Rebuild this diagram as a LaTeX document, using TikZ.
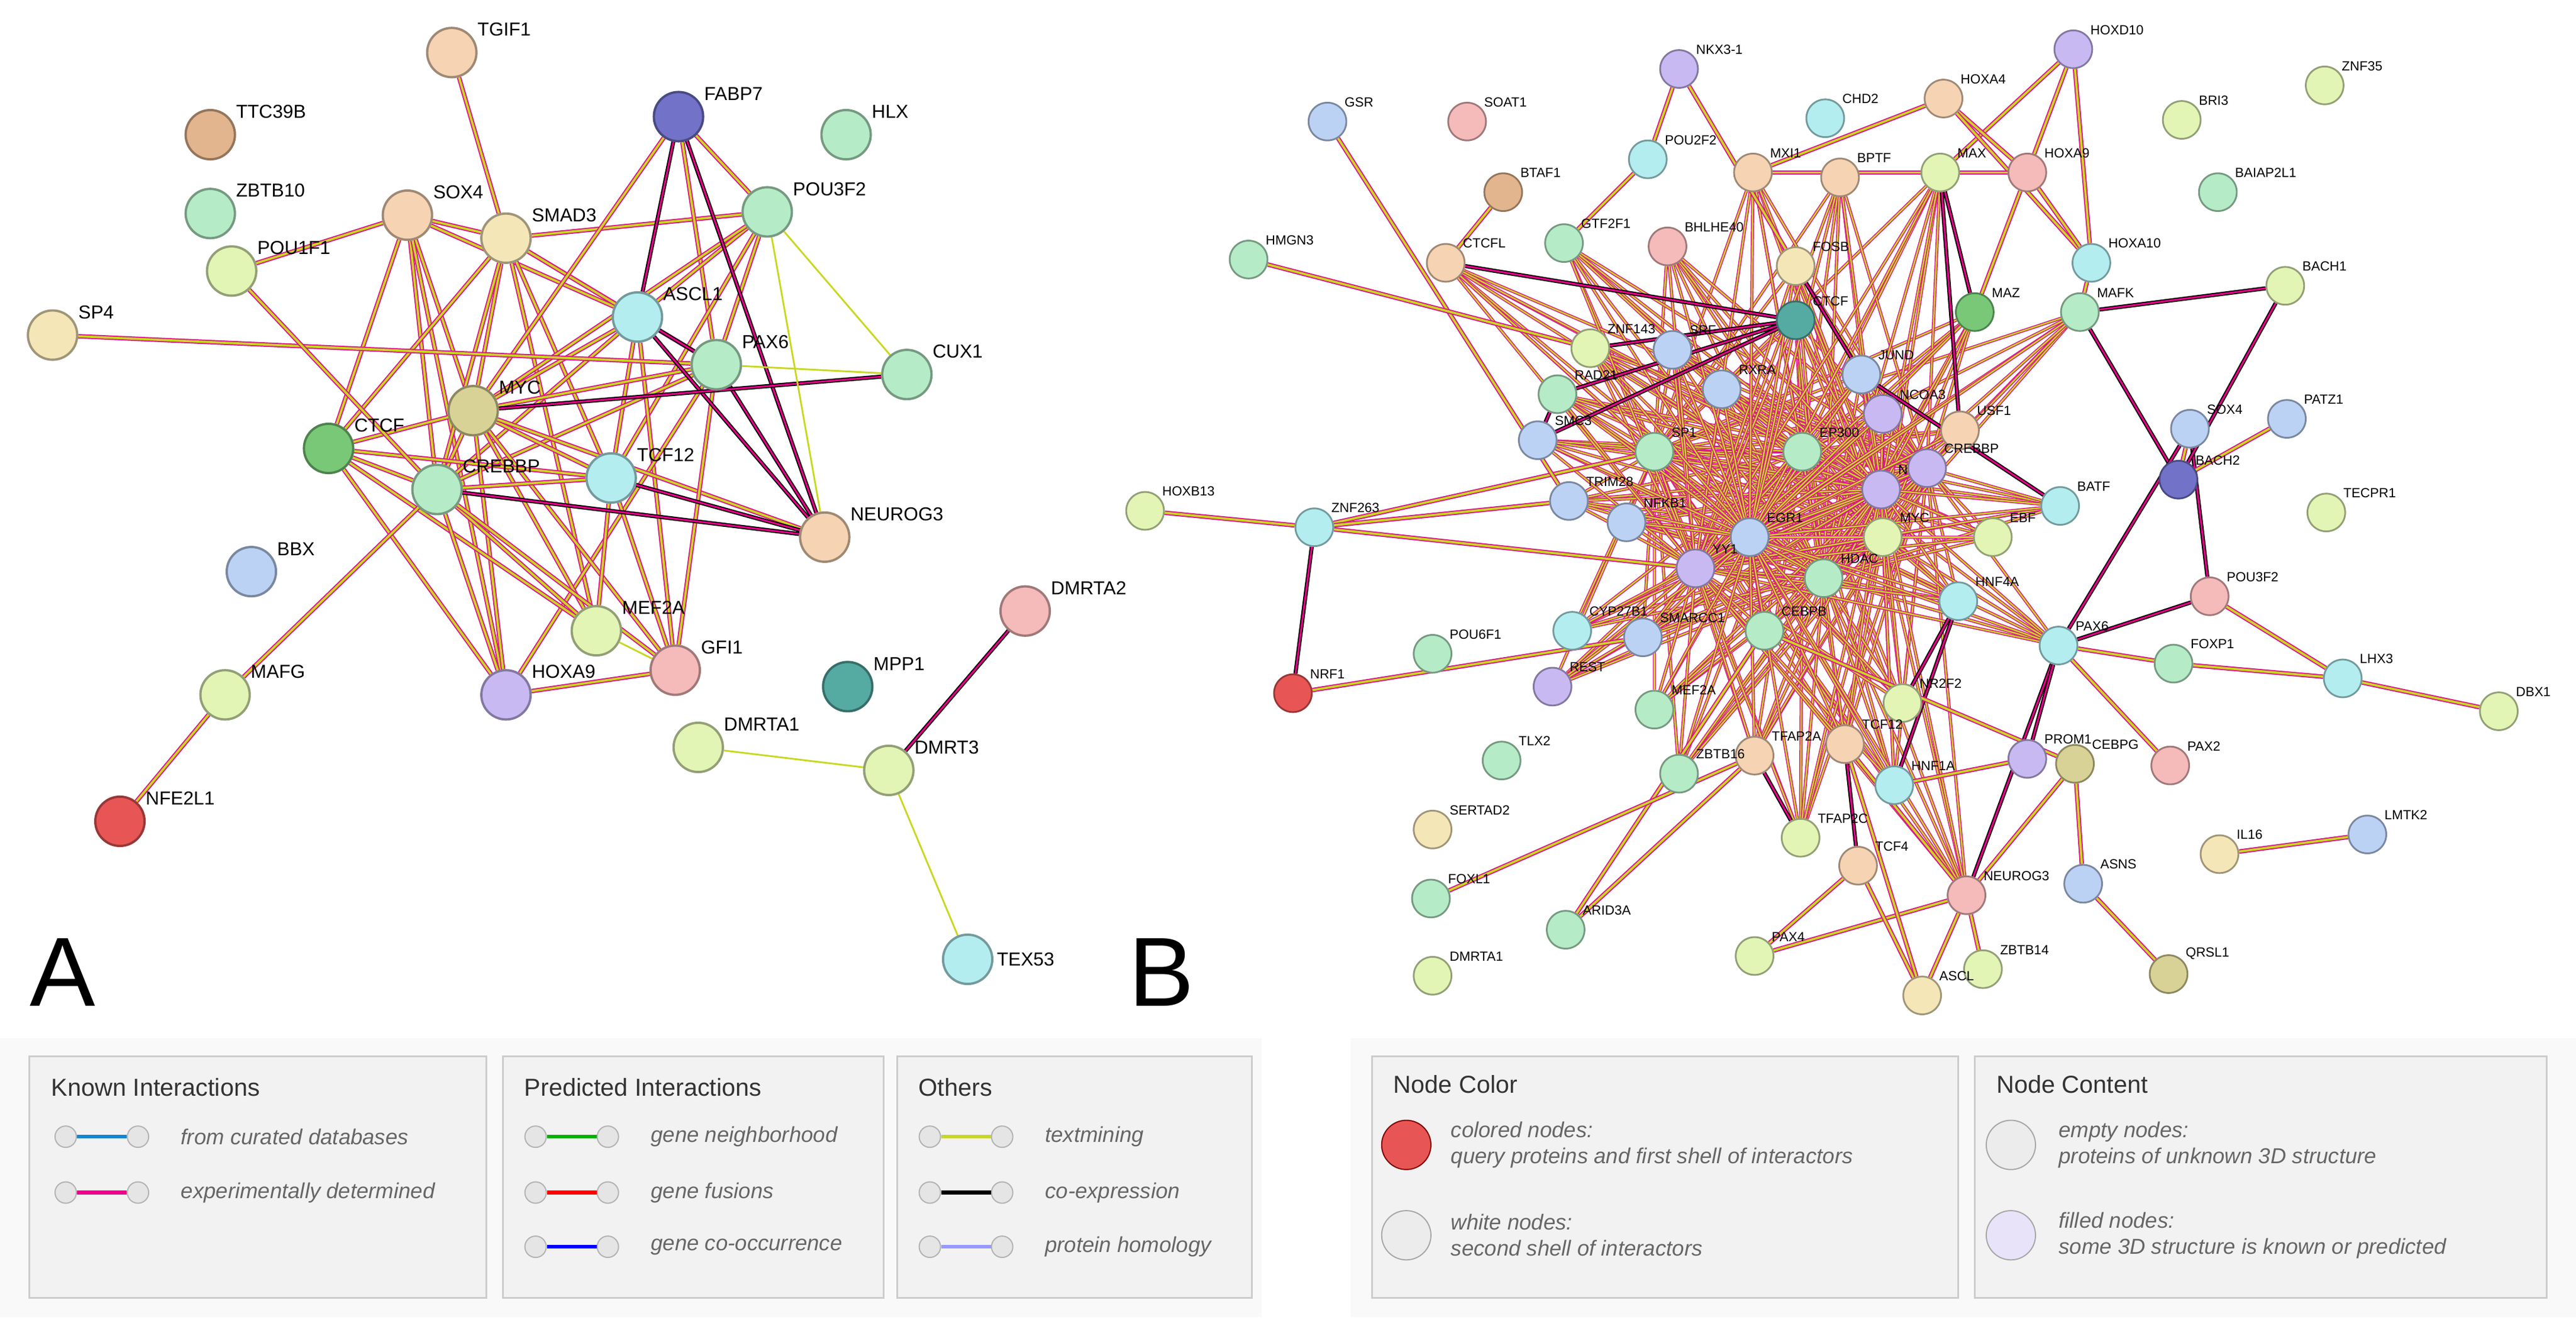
\documentclass[tikz,border=0pt]{standalone}
\usepackage{fontspec}
\setmainfont{Liberation Sans}
\usetikzlibrary{backgrounds}
\definecolor{cPeach}{HTML}{F5D3B3}
\definecolor{cGreen}{HTML}{B5EBC6}
\definecolor{cCyan}{HTML}{B3EDF0}
\definecolor{cLime}{HTML}{E2F5B5}
\definecolor{cPurple}{HTML}{C9B9F3}
\definecolor{cBlue}{HTML}{BCD2F5}
\definecolor{cPink}{HTML}{F5BABA}
\definecolor{cRed}{HTML}{E85555}
\definecolor{cDGreen}{HTML}{78C878}
\definecolor{cTeal}{HTML}{55AAA2}
\definecolor{cKhaki}{HTML}{D8D296}
\definecolor{cTan}{HTML}{E2B58E}
\definecolor{cDBlue}{HTML}{7272C8}
\definecolor{cCream}{HTML}{F5E6B8}
\definecolor{txtc}{HTML}{C8D820}
\tikzset{
	nA/.style = {circle, draw=#1!65!black, fill=#1, minimum size=0.6cm, inner sep=0pt, line width=0.8pt},
	nB/.style = {circle, draw=#1!65!black, fill=#1, minimum size=0.46cm, inner sep=0pt, line width=0.6pt},
	lblA/.style = {font=\fontsize{6.5}{8}\selectfont, inner sep=1pt},
	lblB/.style = {font=\fontsize{4.6}{5}\selectfont, inner sep=0.5pt},
	ed/.style = {draw=magenta!90!black, double=txtc, double distance=0.75pt, line width=0.4pt},
	ek/.style = {draw=black, double=magenta, double distance=0.6pt, line width=0.4pt},
	et/.style = {draw=txtc, line width=0.6pt},
	box/.style = {draw=gray!40, fill=gray!10, line width=0.6pt},
	ttl/.style = {font=\fontsize{8.5}{10}\selectfont, text=black!80, anchor=west},
	itx/.style = {font=\fontsize{7.5}{9}\selectfont\itshape, text=black!60, anchor=west, align=left},
	knob/.style = {circle, draw=gray!60, fill=gray!20, minimum size=0.26cm, inner sep=0pt}
}
\begin{document}
\begin{tikzpicture}[x=0.02cm, y=-0.02cm]
\useasboundingbox (0,0) rectangle (1568,807);

% panel A nodes
\node[nA=cPeach, label={[lblA]30:TGIF1}] (TGIF1) at (275,32) {};
\node[nA=cTan, label={[lblA]30:TTC39B}] (TTC39B) at (128,82) {};
\node[nA=cDBlue, label={[lblA]30:FABP7}] (FABP7) at (413,71) {};
\node[nA=cGreen, label={[lblA]30:HLX}] (HLX) at (515,82) {};
\node[nA=cGreen, label={[lblA]30:ZBTB10}] (ZBTB10) at (128,130) {};
\node[nA=cPeach, label={[lblA]30:SOX4}] (SOX4) at (248,131) {};
\node[nA=cCream, label={[lblA]30:SMAD3}] (SMAD3) at (308,145) {};
\node[nA=cGreen, label={[lblA]30:POU3F2}] (POU3F2) at (467,129) {};
\node[nA=cLime, label={[lblA]30:POU1F1}] (POU1F1) at (141,165) {};
\node[nA=cCream, label={[lblA]30:SP4}] (SP4) at (32,204) {};
\node[nA=cCyan, label={[lblA]30:ASCL1}] (ASCL1) at (388,193) {};
\node[nA=cGreen, label={[lblA]30:PAX6}] (PAX6) at (436,222) {};
\node[nA=cGreen, label={[lblA]30:CUX1}] (CUX1) at (552,228) {};
\node[nA=cKhaki, label={[lblA]30:MYC}] (MYC) at (288,250) {};
\node[nA=cDGreen, label={[lblA]30:CTCF}] (CTCF) at (200,273) {};
\node[nA=cGreen, label={[lblA]30:CREBBP}] (CREBBP) at (266,298) {};
\node[nA=cCyan, label={[lblA]30:TCF12}] (TCF12) at (372,291) {};
\node[nA=cPeach, label={[lblA]30:NEUROG3}] (NEUROG3) at (502,327) {};
\node[nA=cBlue, label={[lblA]30:BBX}] (BBX) at (153,348) {};
\node[nA=cPink, label={[lblA]30:DMRTA2}] (DMRTA2) at (624,372) {};
\node[nA=cLime, label={[lblA]30:MEF2A}] (MEF2A) at (363,384) {};
\node[nA=cTeal, label={[lblA]30:MPP1}] (MPP1) at (516,418) {};
\node[nA=cPink, label={[lblA]30:GFI1}] (GFI1) at (411,408) {};
\node[nA=cPurple, label={[lblA]30:HOXA9}] (HOXA9) at (308,423) {};
\node[nA=cLime, label={[lblA]30:MAFG}] (MAFG) at (137,423) {};
\node[nA=cLime, label={[lblA]30:DMRTA1}] (DMRTA1) at (425,455) {};
\node[nA=cLime, label={[lblA]30:DMRT3}] (DMRT3) at (541,469) {};
\node[nA=cRed, label={[lblA]30:NFE2L1}] (NFE2L1) at (73,500) {};
\node[nA=cCyan, label={[lblA]0:TEX53}] (TEX53) at (589,584) {};

% panel B nodes
\foreach \n/\c/\x/\y in {NKX3-1/cPurple/1022/42, HOXD10/cPurple/1262/30, ZNF35/cLime/1415/52,
  GSR/cBlue/808/74, SOAT1/cPink/893/74, CHD2/cCyan/1111/72, HOXA4/cPeach/1183/60, BRI3/cLime/1328/73,
  POU2F2/cCyan/1003/97, MXI1/cPeach/1067/105, BPTF/cPeach/1120/108, MAX/cLime/1181/105, HOXA9/cPink/1234/105,
  BAIAP2L1/cGreen/1350/117, BTAF1/cTan/915/117, HMGN3/cGreen/760/158, CTCFL/cPeach/880/160,
  GTF2F1/cGreen/952/148, BHLHE40/cPink/1015/150, FOSB/cCream/1093/162, HOXA10/cCyan/1273/160,
  BACH1/cLime/1391/174, CTCF/cTeal/1093/195, MAZ/cDGreen/1202/190, MAFK/cGreen/1266/190,
  ZNF143/cLime/968/212, SRF/cBlue/1018/213, JUND/cBlue/1133/228, RAD21/cGreen/948/240, RXRA/cBlue/1048/237,
  NCOA3/cPurple/1146/252, SOX4/cBlue/1333/261, PATZ1/cBlue/1392/255, SMC3/cBlue/936/268, SP1/cGreen/1007/275,
  EP300/cGreen/1097/275, USF1/cPeach/1193/262, BACH2/cDBlue/1326/292, HOXB13/cLime/697/311,
  ZNF263/cCyan/800/321, TRIM28/cBlue/955/305, NFKB1/cBlue/990/318, NCOR1/cPurple/1145/298,
  CREBBP/cPurple/1173/285, BATF/cCyan/1254/308, TECPR1/cLime/1416/312, EGR1/cBlue/1065/327,
  MYC/cLime/1146/327, EBF/cLime/1213/327, YY1/cPurple/1032/346, HDAC/cGreen/1110/352, HNF4A/cCyan/1192/366,
  POU3F2/cPink/1345/363, POU6F1/cGreen/872/398, CYP27B1/cCyan/957/384, SMARCC1/cBlue/1000/388,
  CEBPB/cGreen/1074/384, PAX6/cCyan/1253/393, FOXP1/cGreen/1323/404, LHX3/cCyan/1426/413, DBX1/cLime/1521/433,
  NRF1/cRed/787/422, REST/cPurple/945/418, MEF2A/cGreen/1007/432, NR2F2/cLime/1158/428, TLX2/cGreen/914/463,
  TFAP2A/cPeach/1068/460, TCF12/cPeach/1123/453, PROM1/cPurple/1234/462, CEBPG/cKhaki/1263/465,
  PAX2/cPink/1321/466, HNF1A/cCyan/1153/478, ZBTB16/cGreen/1022/471, SERTAD2/cCream/872/505,
  TFAP2C/cLime/1096/510, TCF4/cPeach/1131/527, LMTK2/cBlue/1441/508, IL16/cCream/1351/520,
  FOXL1/cGreen/871/547, ARID3A/cGreen/953/566, NEUROG3/cPink/1197/545, ASNS/cBlue/1268/538,
  PAX4/cLime/1068/582, ZBTB14/cLime/1207/590, QRSL1/cKhaki/1320/593, DMRTA1/cLime/872/594, ASCL/cCream/1170/606}
  \node[nB=\c, label={[lblB]40:\n}] (b\n) at (\x,\y) {};

\begin{pgfonlayer}{background}
\fill[white] (0,0) rectangle (1568,807);
% panel A edges
\foreach \a/\b in {TGIF1/SMAD3, SOX4/SMAD3, SOX4/MYC, SOX4/CTCF, SOX4/CREBBP, SOX4/ASCL1, SOX4/HOXA9,
  SMAD3/MYC, SMAD3/CREBBP, SMAD3/POU3F2, SMAD3/ASCL1, SMAD3/PAX6, SMAD3/CTCF, SMAD3/TCF12, SMAD3/MEF2A,
  FABP7/POU3F2, FABP7/PAX6, FABP7/MYC, POU3F2/ASCL1, POU3F2/PAX6, POU3F2/TCF12, POU3F2/MYC,
  ASCL1/MYC, ASCL1/CREBBP, ASCL1/TCF12, ASCL1/GFI1, PAX6/MYC, PAX6/CREBBP, PAX6/HOXA9, SP4/PAX6,
  MYC/CTCF, MYC/CREBBP, MYC/TCF12, MYC/MEF2A, MYC/GFI1, MYC/HOXA9, MYC/NEUROG3, CTCF/CREBBP, CTCF/TCF12,
  CTCF/HOXA9, CTCF/MEF2A, CREBBP/TCF12, CREBBP/MEF2A, CREBBP/HOXA9, CREBBP/GFI1, CREBBP/MAFG,
  TCF12/MEF2A, TCF12/GFI1, HOXA9/GFI1, POU1F1/SOX4, POU1F1/CREBBP, PAX6/GFI1}
  \draw[ed] (\a) -- (\b);
\foreach \a/\b in {FABP7/ASCL1, FABP7/NEUROG3, ASCL1/NEUROG3, PAX6/NEUROG3, TCF12/NEUROG3, MYC/CUX1,
  CREBBP/NEUROG3, ASCL1/PAX6}
  \draw[ek] (\a) -- (\b);
\foreach \a/\b in {POU3F2/CUX1, PAX6/CUX1, POU3F2/NEUROG3, DMRT3/TEX53, DMRTA1/DMRT3, DMRTA2/DMRT3, MAFG/NFE2L1, GFI1/MEF2A}
  \draw[et] (\a) -- (\b);
\draw[ed] (MAFG) -- (NFE2L1);
\draw[ek] (DMRTA2) -- (DMRT3);
% panel B edges
\foreach \h in {bSP1,bEP300,bCREBBP,bMYC,bHDAC,bNCOR1,bYY1,bEGR1}
  \foreach \t in {bSP1,bEP300,bCREBBP,bMYC,bHDAC,bNCOR1,bCTCF,bYY1,bEGR1,bJUND,bNCOA3,bRXRA,bSRF,bNFKB1,
    bTRIM28,bSMC3,bRAD21,bZNF143,bUSF1,bMAZ,bMAX,bCEBPB,bSMARCC1,bHNF4A,bEBF,bNR2F2,bTCF12,bMEF2A,bREST,
    bCYP27B1,bTFAP2A,bHNF1A,bPAX6,bBATF,bMAFK,bFOSB,bBHLHE40,bMXI1,bBPTF,bGTF2F1,bCTCFL,bZBTB16,bTFAP2C,bNEUROG3}
    \draw[ed, line width=0.3pt, double distance=0.5pt] (\h) -- (\t);
\foreach \a/\b in {bCTCF/bRAD21, bCTCF/bSMC3, bCTCF/bZNF143, bCTCF/bCTCFL, bRAD21/bSMC3, bMAX/bMXI1, bMAX/bMAZ,
  bJUND/bFOSB, bJUND/bBATF, bMAFK/bBACH1, bMAFK/bBACH2, bUSF1/bMAX, bNR2F2/bHNF4A, bHNF1A/bHNF4A, bTCF12/bTCF4,
  bTFAP2A/bTFAP2C, bPAX6/bPOU3F2, bPAX6/bSOX4, bSOX4/bPOU3F2, bBACH1/bBACH2, bPAX6/bNEUROG3, bPAX6/bPROM1}
  \draw[ek] (\a) -- (\b);
\foreach \a/\b in {bHOXB13/bZNF263, bZNF263/bSP1, bZNF263/bYY1, bZNF263/bTRIM28, bNRF1/bSMARCC1,
  bNKX3-1/bPOU2F2, bNKX3-1/bFOSB, bHOXD10/bHOXA9, bHOXD10/bMAX, bHOXD10/bHOXA10, bHOXA4/bHOXA9, bHOXA4/bMXI1,
  bHOXA4/bHOXA10, bHOXA9/bHOXA10, bHOXA10/bMAFK, bHOXA9/bMAZ, bPATZ1/bBACH2, bLHX3/bPOU3F2, bLHX3/bDBX1,
  bLHX3/bFOXP1, bFOXP1/bPAX6, bPAX2/bPAX6, bCEBPG/bASNS, bASNS/bQRSL1, bIL16/bLMTK2, bARID3A/bCEBPB,
  bARID3A/bTFAP2A, bFOXL1/bTFAP2A, bPAX4/bNEUROG3, bPAX4/bTCF4, bZBTB14/bNEUROG3, bASCL/bNEUROG3, bASCL/bTCF4,
  bASCL/bTCF12, bNEUROG3/bTCF12, bGSR/bTRIM28, bHMGN3/bZNF143, bCEBPG/bCEBPB, bPROM1/bHNF1A, bBACH2/bSOX4,
  bCEBPG/bNEUROG3, bCTCFL/bBTAF1, bPOU2F2/bGTF2F1, bMXI1/bHOXA9}
  \draw[ed] (\a) -- (\b);
\draw[ek] (bZNF263) -- (bNRF1);
\end{pgfonlayer}

% panel letters
\node[font=\fontsize{34}{36}\selectfont] (labA) at (38,592) {A};
\node[font=\fontsize{34}{36}\selectfont] (labB) at (707,592) {B};

% legend A
\fill[gray!5] (0,632) rectangle (768,802);
\draw[box] (18,643) rectangle (296,790);
\draw[box] (306,643) rectangle (538,790);
\draw[box] (546,643) rectangle (762,790);
\node[ttl] (tKnown) at (25,662) {Known Interactions};
\node[ttl] (tPred) at (313,662) {Predicted Interactions};
\node[ttl] (tOth) at (553,662) {Others};
\foreach \x/\y/\c/\t [count=\i] in {40/692/cyan!70!blue/from curated databases, 40/726/magenta/experimentally determined,
  326/692/green!70!black/gene neighborhood, 326/726/red/gene fusions, 326/759/blue/gene co-occurrence,
  566/692/txtc/textmining, 566/726/black/co-expression, 566/759/blue!40/protein homology}{
  \node[knob] (kl\i) at (\x,\y) {};
  \node[knob] (kr\i) at (\x+44,\y) {};
  \draw[\c, line width=1.3pt] (kl\i) -- (kr\i);
  \node[itx] (tx\i) at (\x+64,\y) {\t};
}

% legend B
\fill[gray!5] (822,632) rectangle (1568,802);
\draw[box] (835,643) rectangle (1192,790);
\draw[box] (1202,643) rectangle (1550,790);
\node[ttl] (tColor) at (842,660) {Node Color};
\node[ttl] (tContent) at (1209,660) {Node Content};
\node[circle, draw=red!50!black, fill=cRed, minimum size=0.6cm] (iRed) at (856,697) {};
\node[circle, draw=gray!70, fill=gray!15, minimum size=0.6cm] (iWhite) at (856,752) {};
\node[circle, draw=gray!70, fill=gray!15, minimum size=0.6cm] (iEmpty) at (1224,697) {};
\node[circle, draw=gray!70, fill=cPurple!40, minimum size=0.6cm] (iFilled) at (1224,752) {};
\node[itx] (cRedT) at (877,697) {colored nodes:\\query proteins and first shell of interactors};
\node[itx] (cWhiteT) at (877,752) {white nodes:\\second shell of interactors};
\node[itx] (cEmptyT) at (1247,697) {empty nodes:\\proteins of unknown 3D structure};
\node[itx] (cFilledT) at (1247,752) {filled nodes:\\some 3D structure is known or predicted};
\end{tikzpicture}
\end{document}
